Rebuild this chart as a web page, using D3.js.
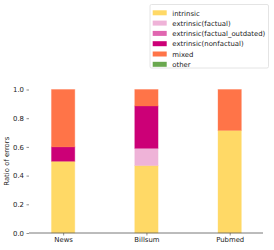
<!DOCTYPE html>
<html>
<head>
<meta charset="utf-8">
<script src="https://cdn.jsdelivr.net/npm/d3@7"></script>
<style>
  body { margin: 0; background: #fff; }
  text { font-family: "DejaVu Sans", sans-serif; }
</style>
</head>
<body>
<svg id="chart" width="274" height="250"></svg>
<script>
var datasets = ["News", "Billsum", "Pubmed"];
var errorTypes = ["intrinsic", "extrinsic(factual)", "extrinsic(factual_outdated)", "extrinsic(nonfactual)", "mixed", "other"];
var typeColors = ["#ffd966", "#efb3d8", "#e066b0", "#cc0077", "#ff7448", "#6aa84f"];
// ratio per error type, one value per dataset
var intrinsic = [0.50, 0.47, 0.715];
var extrinsicFactual = [0, 0.12, 0];
var extrinsicOutdated = [0, 0, 0];
var extrinsicNonfactual = [0.10, 0.295, 0];
var mixed = [0.40, 0.115, 0.285];
var other = [0, 0, 0];
var yTicks = [0, 0.2, 0.4, 0.6, 0.8, 1.0];

var FONT = 6.9;

var svg = d3.select("#chart"),
	MARGIN = {left: 29, right: 11, top: 89.5, bottom: 17},
	width = 274 - MARGIN.left - MARGIN.right,
	height = 250 - MARGIN.top - MARGIN.bottom;

var series = [intrinsic, extrinsicFactual, extrinsicOutdated, extrinsicNonfactual, mixed, other];

var rows = datasets.map(function(name, i) {
	var row = {name: name};
	errorTypes.forEach(function(t, k) { row[t] = series[k][i]; });
	return row;
});

var stacked = d3.stack().keys(errorTypes)(rows);

// linear x like matplotlib, xlim -0.4..2.4, bar width 0.28
var x = d3.scaleLinear().domain([-0.41, 2.4]).range([0, width]);
var y = d3.scaleLinear().domain([0, 1]).range([height, 0]);
var color = d3.scaleOrdinal().domain(errorTypes).range(typeColors);
var BAR = 0.28;

var g = svg.append("g").attr("transform", "translate(" + MARGIN.left + "," + MARGIN.top + ")");

g.selectAll(".layer")
	.data(stacked)
	.enter()
	.append("g")
	.attr("class", "layer")
	.attr("fill", function(d) { return color(d.key); })
	.attr("stroke", function(d) { return color(d.key); })
	.selectAll("rect")
		.data(function(d) { return d; })
		.enter()
		.append("rect")
		.filter(function(d) { return d[1] - d[0] > 0; })
		.attr("x", function(d) { return x(datasets.indexOf(d.data.name) - BAR / 2); })
		.attr("width", x(BAR) - x(0))
		.attr("y", function(d) { return y(d[1]); })
		.attr("height", function(d) { return y(d[0]) - y(d[1]); })
		.attr("stroke-opacity", 0.35)
		.attr("stroke-width", 1);

var yAxis = g.append("g")
	.call(d3.axisLeft(y).tickValues(yTicks).tickFormat(d3.format(".1f")).tickSize(2.5).tickPadding(2.5));
yAxis.select(".domain").remove();
yAxis.selectAll("text").attr("font-size", FONT).attr("fill", "#222");
yAxis.selectAll("line").attr("stroke", "#444").attr("stroke-width", 0.6);

var xAxis = g.append("g")
	.attr("transform", "translate(0," + height + ")")
	.call(d3.axisBottom(x).tickValues([0, 1, 2]).tickFormat(function(d) { return datasets[d]; }).tickSize(2.5).tickPadding(2));
xAxis.select(".domain").attr("d", "M0,0H" + width).attr("stroke", "#555").attr("stroke-width", 0.8);
xAxis.selectAll("text").attr("font-size", FONT).attr("fill", "#222");
xAxis.selectAll("line").attr("stroke", "#444").attr("stroke-width", 0.6);

svg.append("text")
	.attr("transform", "translate(9," + (MARGIN.top + height / 2) + ") rotate(-90)")
	.attr("text-anchor", "middle")
	.attr("font-size", FONT)
	.attr("fill", "#222")
	.text("Ratio of errors");

// legend
var legend = svg.append("g").attr("transform", "translate(150,4.5)");
legend.append("rect")
	.attr("width", 118.5)
	.attr("height", 63.5)
	.attr("rx", 1.5)
	.attr("fill", "#fff")
	.attr("stroke", "#ddd")
	.attr("stroke-width", 0.8);

var item = legend.selectAll(".item")
	.data(errorTypes)
	.enter()
	.append("g")
	.attr("class", "item")
	.attr("transform", function(d, i) { return "translate(0," + (5.8 + i * 10.3) + ")"; });

item.append("rect")
	.attr("x", 2.7)
	.attr("y", 0)
	.attr("width", 14)
	.attr("height", 5)
	.attr("fill", function(d) { return color(d); });

item.append("text")
	.attr("x", 22.3)
	.attr("y", 5.2)
	.attr("font-size", FONT)
	.attr("fill", "#222")
	.text(function(d) { return d; });
</script>
</body>
</html>
